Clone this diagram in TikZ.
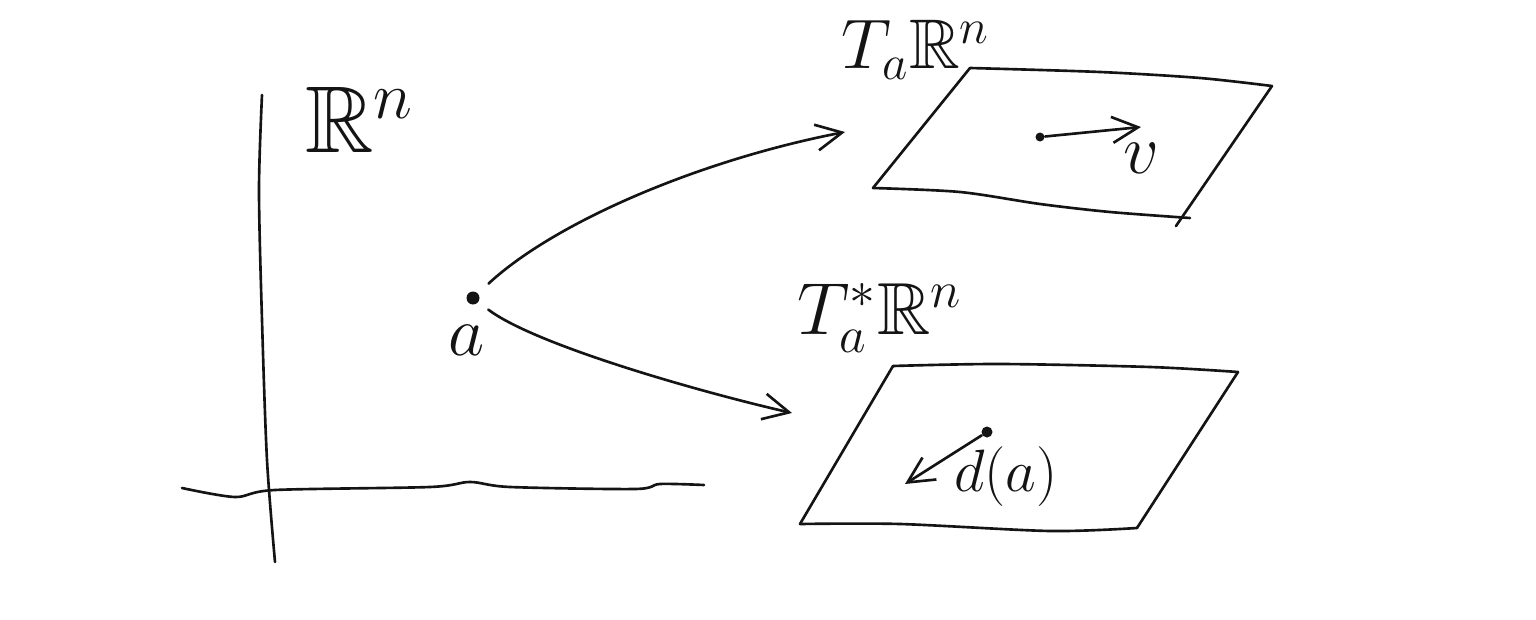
\documentclass[tikz,border=0pt]{standalone}
\usepackage{fix-cm}
\usepackage{amsmath,amssymb}
\usepackage{tikz}
\usetikzlibrary{arrows.meta,positioning,calc}
\definecolor{ink}{RGB}{20,20,20}

\begin{document}
\begin{tikzpicture}[x=0.1mm, y=-0.1mm,
    hand/.style={ink, line width=0.75pt, line cap=round, line join=round},
    barb/.style={-{Straight Barb[length=2.6mm, width=2.6mm, line width=0.75pt]}},
    lbl/.style={ink, inner sep=0pt, font=\fontsize{20}{24}\selectfont},
    dot/.style={circle, fill=ink, inner sep=0pt, minimum size=#1}]
  \useasboundingbox (0,0) rectangle (1536,620);

  % Axes of R^n
  \draw[hand] plot[smooth] coordinates {(262,95) (259,190) (262,320) (267,460) (275,562)};
  \draw[hand] plot[smooth] coordinates {(182,488) (235,497) (275,490) (430,487)
    (470,482) (510,487) (635,489) (660,484) (704,485)};
  \node[lbl, font=\fontsize{27}{32}\selectfont] (Rn) at (360,120) {$\mathbb{R}^n$};

  % The point a
  \node[dot=1.3mm] (pta) at (473,298) {};
  \node[lbl] (alab) at (467,340) {$a$};

  % Tangent space
  \draw[hand] plot[smooth] coordinates {(970,68) (1100,72) (1200,78) (1272,86)};
  \draw[hand] (1272,86) -- (1176,226);
  \draw[hand] plot[smooth] coordinates {(873,188) (960,192) (1040,204) (1110,212) (1190,218)};
  \draw[hand] (873,188) -- (970,68);
  \node[lbl] (Tlab) at (916,50) {$T_a\mathbb{R}^n$};

  \node[dot=0.9mm] (vtail) at (1040,137) {};
  \coordinate (vtip) at (1141,127);
  \draw[hand, barb] (vtail) -- (vtip);
  \node[lbl] (vlab) at (1141,158) {$v$};

  % Cotangent space
  \draw[hand] plot[smooth] coordinates {(893,366) (1000,364) (1150,367) (1238,372)};
  \draw[hand] (1238,372) -- (1137,528);
  \draw[hand] plot[smooth] coordinates {(800,524) (900,524) (1050,531) (1137,528)};
  \draw[hand] (800,524) -- (893,366);
  \node[lbl, font=\fontsize{21}{25}\selectfont] (Tslab) at (880,318) {$T^*_a\mathbb{R}^n$};

  \node[dot=1.1mm] (dtail) at (987,432) {};
  \coordinate (dtip) at (905,484);
  \draw[hand, barb] (dtail) -- (dtip);
  \node[lbl, font=\fontsize{17}{20}\selectfont] (dlab) at (1006,477) {$d(a)$};

  % Maps from a
  \coordinate (toT) at (845,132);
  \coordinate (toTs) at (792,413);
  \draw[hand, barb, shorten <=1.4mm] (pta) .. controls (555,222) and (700,160) .. (toT);
  \draw[hand, barb, shorten <=1.2mm] (pta) .. controls (535,345) and (700,392) .. (toTs);
\end{tikzpicture}
\end{document}
